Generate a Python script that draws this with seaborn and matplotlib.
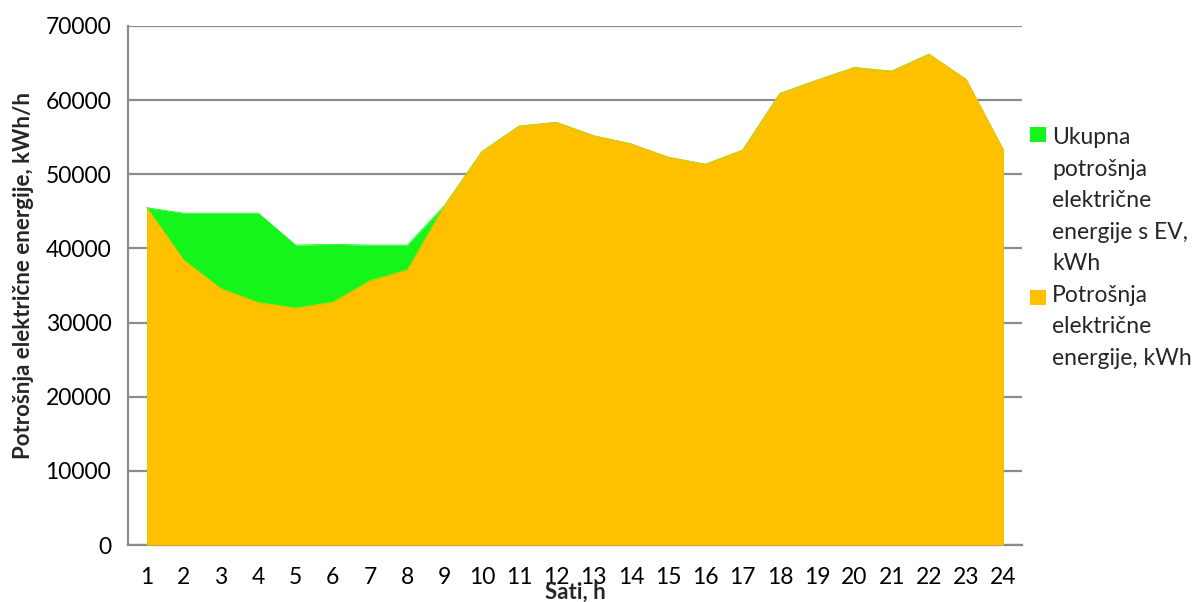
import numpy as np
import pandas as pd
import matplotlib
matplotlib.use("Agg")
import matplotlib.pyplot as plt
import seaborn as sns
from matplotlib.patches import Rectangle

# Data
hours = list(range(1, 25))
hour_labels = [str(h) for h in hours]
base_kwh = [45500, 38400, 34550, 32700, 31950, 32750, 35650, 37100,
            45800, 53050, 56500, 57000, 55200, 54100, 52300, 51350,
            53250, 60900, 62700, 64400, 63900, 66200, 62800, 53300]
total_ev_kwh = [45500, 44750, 44750, 44750, 40450, 40550, 40450, 40450,
                45800, 53050, 56500, 57000, 55200, 54100, 52300, 51350,
                53250, 60900, 62700, 64400, 63900, 66200, 62800, 53300]
y_ticks = [0, 10000, 20000, 30000, 40000, 50000, 60000, 70000]

label_total = "Ukupna\npotrošnja\nelektrične\nenergije s EV,\nkWh"
label_base = "Potrošnja\nelektrične\nenergije, kWh"

GREEN = "#15F51C"
ORANGE = "#FFC000"
GRID = "#8C8C8C"
W, H = 1204, 602

sns.set_theme(style="white")
plt.rcParams['font.family'] = ['Lato', 'DejaVu Sans']

df = pd.DataFrame({"hour": hours, "base": base_kwh, "total": total_ev_kwh})

fig = plt.figure(figsize=(W / 100, H / 100), dpi=100)
ax = fig.add_axes([128 / W, 1 - 545 / H, (1022 - 128) / W, (545 - 26) / H])

# areas: total with EV behind, base consumption in front
ax.fill_between(df["hour"], 0, df["total"], color=GREEN, linewidth=0, zorder=2)
sns.lineplot(data=df, x="hour", y="total", color=GREEN, linewidth=0.6, ax=ax, zorder=2)
ax.fill_between(df["hour"], 0, df["base"], color=ORANGE, linewidth=0, zorder=3)
sns.lineplot(data=df, x="hour", y="base", color=ORANGE, linewidth=0.6, ax=ax, zorder=3)

ax.set_xlim(0.5, 24.5)
ax.set_ylim(0, 70000)
ax.set_yticks(y_ticks)
ax.set_yticklabels([str(v) for v in y_ticks], fontsize=16.5)
ax.yaxis.grid(True, color=GRID, linewidth=1.6, zorder=0)
ax.set_axisbelow(True)

# category labels centred, tick marks between categories
ax.set_xticks(hours)
ax.set_xticklabels(hour_labels, fontsize=16.5)
ax.set_xticks(np.arange(0.5, 25, 1), minor=True)
ax.tick_params(axis="x", which="major", length=0, pad=16)
ax.tick_params(axis="x", which="minor", length=7, width=1.3, color=GRID, direction="out")
ax.tick_params(axis="y", length=7, width=1.3, color=GRID, direction="out", pad=5)
for lab in ax.get_yticklabels() + ax.get_xticklabels():
    lab.set_color("black")

for side in ["top", "right"]:
    ax.spines[side].set_visible(False)
for side in ["left", "bottom"]:
    ax.spines[side].set_color(GRID)
    ax.spines[side].set_linewidth(1.6)

ax.set_xlabel("")
ax.set_ylabel("")
fig.text(24 / W, 1 - 275 / H, "Potrošnja električne energije, kWh/h",
         rotation=90, ha="center", va="center", fontsize=16, fontweight="bold")
fig.text(575 / W, 1 - 592 / H, "Sati, h", ha="center", va="center",
         fontsize=16, fontweight="bold")

# legend: square markers aligned with the first line of each entry
fig.patches.append(Rectangle((1030 / W, 1 - 142 / H), 16 / W, 15 / H,
                             transform=fig.transFigure, facecolor=GREEN, edgecolor="none"))
fig.patches.append(Rectangle((1030 / W, 1 - 305 / H), 16 / W, 15 / H,
                             transform=fig.transFigure, facecolor=ORANGE, edgecolor="none"))
fig.text(1052 / W, 1 - 248 / H, label_total + "\n" + label_base, ha="left", va="center",
         fontsize=16.5, linespacing=1.62)

fig.savefig("out.png", dpi=100)
